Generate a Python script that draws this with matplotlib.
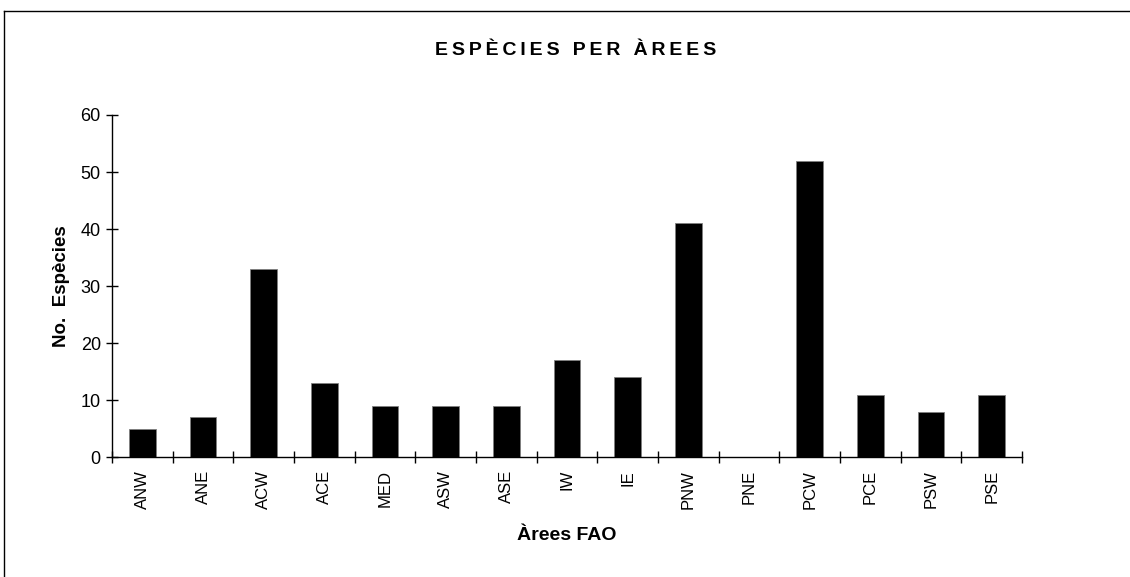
import matplotlib.pyplot as plt
from matplotlib.lines import Line2D
import numpy as np

plt.rcParams['font.family'] = ['Liberation Sans', 'DejaVu Sans']

arees = ['ANW', 'ANE', 'ACW', 'ACE', 'MED', 'ASW', 'ASE', 'IW', 'IE',
         'PNW', 'PNE', 'PCW', 'PCE', 'PSW', 'PSE']
especies = [5, 7, 33, 13, 9, 9, 9, 17, 14, 41, 0, 52, 11, 8, 11]

fig = plt.figure(figsize=(11.3, 5.77), dpi=100)
ax = fig.add_axes([0.0991, 0.2074, 0.8053, 0.5933])

x = np.arange(len(arees))
ax.bar(x, especies, width=0.44, color='black', edgecolor='#808080', linewidth=0.6)

ax.set_xlim(-0.5, len(arees) - 0.5)
ax.set_ylim(0, 60)
ax.set_yticks(range(0, 61, 10))

# labels centred under the bars, tick marks on the category boundaries
ax.set_xticks(x)
ax.set_xticklabels(arees, rotation=90, fontsize=12)
ax.tick_params(axis='x', which='major', length=0, pad=9)
ax.set_xticks(np.arange(-0.5, len(arees), 1), minor=True)
ax.tick_params(axis='x', which='minor', direction='inout', length=8, width=1)
ax.tick_params(axis='y', direction='inout', length=8, width=1, labelsize=13, pad=4)

for side in ['top', 'right']:
    ax.spines[side].set_visible(False)
for side in ['left', 'bottom']:
    ax.spines[side].set_linewidth(1)

ax.set_ylabel('No.  Espècies', fontsize=13.5, fontweight='bold', labelpad=8)
ax.set_xlabel('Àrees FAO', fontsize=14, fontweight='bold', labelpad=13)

# title with wide letter spacing (thin spaces between letters)
titol = 'ESPÈCIES PER ÀREES'
titol_espaiat = '\u2009'.join(titol).replace('\u2009 \u2009', ' \u2009\u2009')
fig.text(0.509, 0.913, titol_espaiat, ha='center', va='center',
         fontsize=14, fontweight='bold')

# open frame along the top and left edges
fig.add_artist(Line2D([0.0035, 1.0], [0.9815, 0.9815], color='black', lw=1))
fig.add_artist(Line2D([0.0035, 0.0035], [0.0, 0.9815], color='black', lw=1))

fig.savefig('out.png', dpi=100, facecolor='white')
